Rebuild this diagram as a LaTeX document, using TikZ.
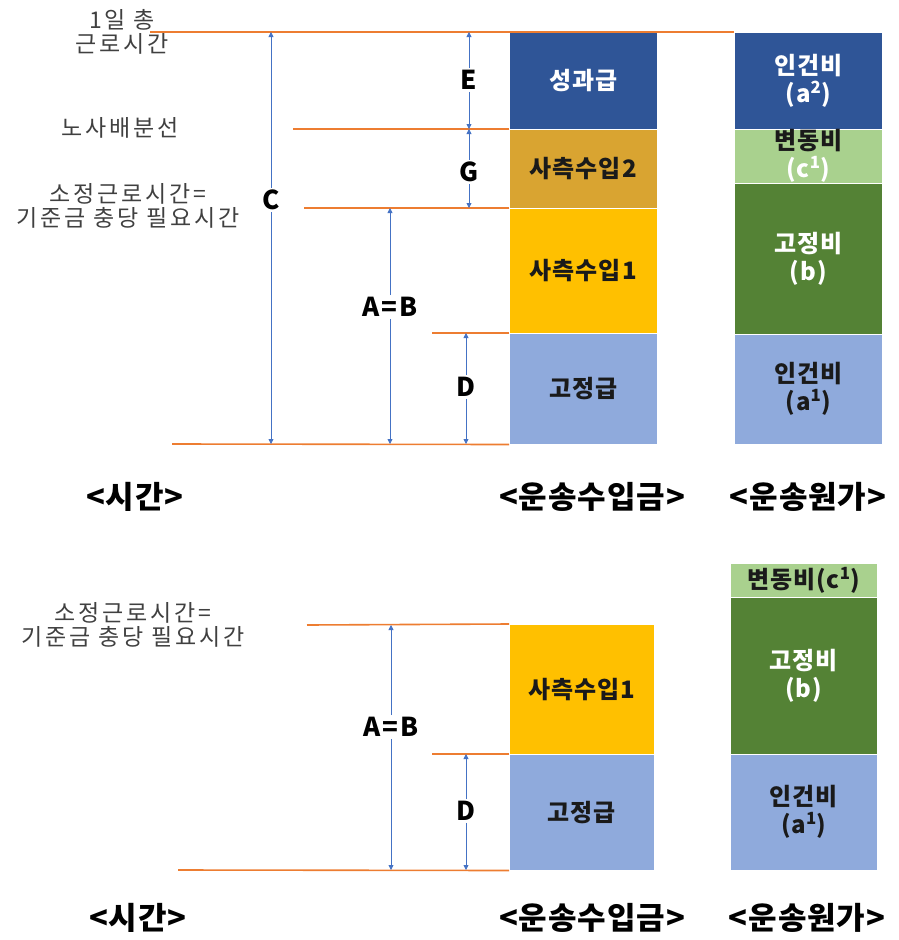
\documentclass[tikz,border=0pt]{standalone}
\usepackage{fontspec}
\setmainfont{Noto Sans CJK KR}
\usetikzlibrary{arrows.meta}
\definecolor{ppblue}{HTML}{2F5597}
\definecolor{ppgold}{HTML}{D9A431}
\definecolor{ppyellow}{HTML}{FFC000}
\definecolor{pplight}{HTML}{8FAADC}
\definecolor{ppgreen}{HTML}{548235}
\definecolor{pplgreen}{HTML}{A9D18E}
\definecolor{pporange}{HTML}{ED7D31}
\definecolor{pparrow}{HTML}{4472C4}
\definecolor{pptext}{HTML}{404040}
\definecolor{ppdark}{HTML}{1A1A1A}

\tikzset{
  cutline/.style={pporange, line width=1.6pt},
  span/.style={pparrow, line width=0.8pt, -{Triangle[width=5pt,length=5pt]}},
  stack/.style={anchor=north west, inner sep=0pt, minimum width=148pt, draw=white, line width=0.5pt,
    align=center, font=\fontsize{24}{28}\selectfont\bfseries\addfontfeature{LetterSpace=4}},
  sidetext/.style={align=center, text=pptext, font=\fontsize{23}{24}\selectfont\addfontfeature{LetterSpace=12}},
  tag/.style={fill=white, inner sep=2pt, font=\fontsize{26}{26}\selectfont\bfseries\addfontfeature{LetterSpace=8}},
  heading/.style={font=\fontsize{31}{32}\selectfont\bfseries\addfontfeature{LetterSpace=3}},
}

\begin{document}
\begin{tikzpicture}[x=1pt, y=-1pt]
  \useasboundingbox (0,0) rectangle (898,940);

  % ---------- upper panel ----------
  % Revenue column
  \node[stack, fill=ppblue, text=white, minimum height=97pt] (perf) at (509,32) {성과급};
  \node[stack, fill=ppgold, text=ppdark, minimum height=79pt] (revb) at (509,129) {사측수입2};
  \node[stack, fill=ppyellow, text=ppdark, minimum height=125pt] (reva) at (509,208) {사측수입1};
  \node[stack, fill=pplight, text=ppdark, minimum height=111pt] (fixpay) at (509,333) {고정급};
  % Cost column
  \node[stack, fill=ppblue, text=white, minimum height=97pt] (laborb) at (734,32) {인건비\\(a\textsuperscript{2})};
  \node[stack, fill=pplgreen, text=ppdark, minimum height=54pt] (varc) at (734,129) {변동비\\\textcolor{white}{(c\textsuperscript{1})}};
  \node[stack, fill=ppgreen, text=white, minimum height=151pt] (fixc) at (734,183) {고정비\\(b)};
  \node[stack, fill=pplight, text=ppdark, minimum height=110pt] (labora) at (734,334) {인건비\\(a\textsuperscript{1})};

  % Level lines
  \coordinate (day) at (150,32);
  \coordinate (share) at (293,129);
  \coordinate (base) at (304,208);
  \coordinate (fixtop) at (432,333);
  \coordinate (floor) at (172,444);
  \draw[cutline] (day) -- (laborb.north west);
  \draw[cutline] (share) -- (revb.north west);
  \draw[cutline] (base) -- (reva.north west);
  \draw[cutline] (fixtop) -- (fixpay.north west);
  \draw[cutline] (floor) -- (fixpay.south west);

  % Spans
  \node[tag] (tagC) at (271,200) {C};
  \node[tag] (tagE) at (469,80) {E};
  \node[tag] (tagG) at (469,172) {G};
  \node[tag] (tagAB) at (390,307) {A=B};
  \node[tag] (tagD) at (466,387) {D};
  \draw[span] (tagC) -- (tagC |- day);
  \draw[span] (tagC) -- (tagC |- floor);
  \draw[span] (tagE) -- (tagE |- day);
  \draw[span] (tagE) -- (tagE |- share);
  \draw[span] (tagG) -- (tagG |- share);
  \draw[span] (tagG) -- (tagG |- base);
  \draw[span] (tagAB) -- (tagAB |- base);
  \draw[span] (tagAB) -- (tagAB |- floor);
  \draw[span] (tagD) -- (tagD |- fixtop);
  \draw[span] (tagD) -- (tagD |- floor);

  % Side labels
  \node[sidetext] (dayname) at (122,32) {1일 총\\근로시간};
  \node[sidetext] (sharename) at (120,128) {노사배분선};
  \node[sidetext] (basename) at (128,206) {소정근로시간=\\기준금 충당 필요시간};

  % Headings
  \node[heading] (timeA) at (135,497) {<시간>};
  \node[heading] (revA) at (592,497) {<운송수입금>};
  \node[heading] (costA) at (808,497) {<운송원가>};

  % ---------- lower panel ----------
  \node[stack, fill=ppyellow, text=ppdark, minimum width=145pt, minimum height=130pt] (revc) at (509,624) {사측수입1};
  \node[stack, fill=pplight, text=ppdark, minimum width=145pt, minimum height=116pt] (fixpayc) at (509,754) {고정급};
  \node[stack, fill=pplgreen, text=ppdark, minimum width=147pt, minimum height=34pt] (varcc) at (730,563) {변동비(c\textsuperscript{1})};
  \node[stack, fill=ppgreen, text=white, minimum width=147pt, minimum height=157pt] (fixcc) at (730,597) {고정비\\(b)};
  \node[stack, fill=pplight, text=ppdark, minimum width=147pt, minimum height=116pt] (laborc) at (730,754) {인건비\\(a\textsuperscript{1})};

  \coordinate (base2) at (307,625);
  \coordinate (fixtop2) at (432,754);
  \coordinate (floor2) at (178,870);
  \draw[cutline] (base2) -- (revc.north west);
  \draw[cutline] (fixtop2) -- (fixpayc.north west);
  \draw[cutline] (floor2) -- (fixpayc.south west);

  \node[tag] (tagAB2) at (391,727) {A=B};
  \node[tag] (tagD2) at (466,811) {D};
  \draw[span] (tagAB2) -- (tagAB2 |- base2);
  \draw[span] (tagAB2) -- (tagAB2 |- floor2);
  \draw[span] (tagD2) -- (tagD2 |- fixtop2);
  \draw[span] (tagD2) -- (tagD2 |- floor2);

  \node[sidetext] (basename2) at (133,625) {소정근로시간=\\기준금 충당 필요시간};

  \node[heading] (timeB) at (138,918) {<시간>};
  \node[heading] (revB) at (592,918) {<운송수입금>};
  \node[heading] (costB) at (807,918) {<운송원가>};
\end{tikzpicture}
\end{document}
